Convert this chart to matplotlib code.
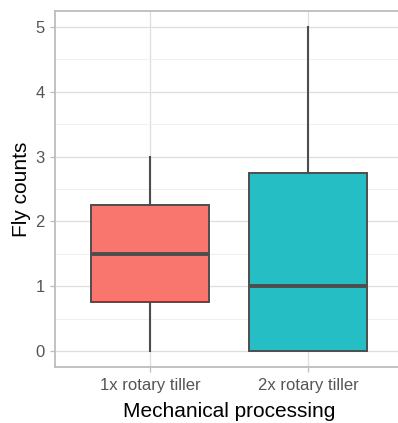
import numpy as np
import matplotlib
matplotlib.use("Agg")
import matplotlib.pyplot as plt

# data (box statistics per treatment)
groups = ["1x rotary tiller", "2x rotary tiller"]
whislo = [0.0, 0.0]
q1 = [0.75, 0.0]
med = [1.5, 1.0]
q3 = [2.25, 2.75]
whishi = [3.0, 5.0]
fills = ["#F8766D", "#25BEC4"]
yticks = [0, 1, 2, 3, 4, 5]

plt.rcParams['font.family'] = ['Liberation Sans', 'DejaVu Sans']

fig = plt.figure(figsize=(3.98, 4.23), dpi=100)
ax = fig.add_axes([55 / 398, 1 - 367.2 / 423, 348 / 398, 356.4 / 423])

stats = []
for i, g in enumerate(groups):
    stats.append(dict(label=g, whislo=whislo[i], q1=q1[i], med=med[i],
                      q3=q3[i], whishi=whishi[i], fliers=[]))

bp = ax.bxp(stats, positions=[1, 2], widths=0.75, patch_artist=True,
            showcaps=False,
            boxprops=dict(edgecolor="#4D4D4D", linewidth=1.4),
            whiskerprops=dict(color="#4D4D4D", linewidth=1.5),
            medianprops=dict(color="#4D4D4D", linewidth=2.8, solid_capstyle="butt"),
            zorder=3)
for patch, c in zip(bp["boxes"], fills):
    patch.set_facecolor(c)

ax.set_xlim(0.4, 2.6)
ax.set_ylim(-0.25, 5.25)
ax.set_yticks(yticks)
ax.set_yticks(np.arange(0.5, 5, 1.0), minor=True)
ax.set_xticks([1, 2])
ax.set_xticklabels(groups)

ax.grid(True, which="major", color="#DEDEDE", linewidth=0.9, zorder=0)
ax.grid(True, which="minor", axis="y", color="#EDEDED", linewidth=0.6, zorder=0)
ax.set_axisbelow(True)

for s in ax.spines.values():
    s.set_color("#BDBDBD")
    s.set_linewidth(1.3)

ax.tick_params(which="major", color="#BDBDBD", length=3.5, width=0.9,
               labelcolor="#555555", labelsize=12, pad=4)
ax.tick_params(which="minor", length=0)

ax.set_xlabel("Mechanical processing", fontsize=15, color="black", labelpad=7)
ax.set_ylabel("Fly counts", fontsize=15, color="black", labelpad=3)

fig.savefig("out.png", dpi=100)
